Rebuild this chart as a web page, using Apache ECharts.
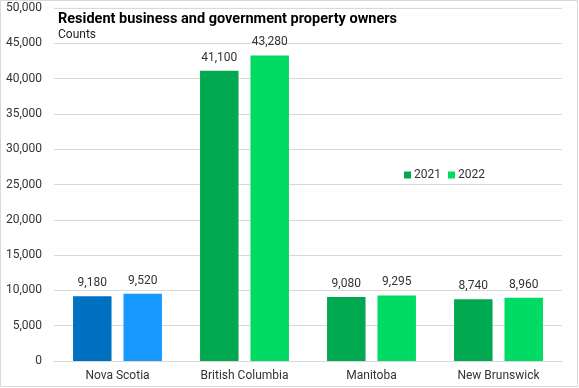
<!DOCTYPE html>
<html><head><meta charset="utf-8">
<script src="https://cdn.jsdelivr.net/npm/echarts@6/dist/echarts.min.js"></script>
<style>html,body{margin:0;padding:0;background:#fff}#c{width:579px;height:388px}</style>
</head><body><div id="c"></div>
<script>
const categories = ['Nova Scotia', 'British Columbia', 'Manitoba', 'New Brunswick'];
const values2021 = [9180, 41100, 9080, 8740];
const values2022 = [9520, 43280, 9295, 8960];
const seriesNames = ['2021', '2022'];
const titleText = 'Resident business and government property owners';
const subtitleText = 'Counts';

const green2021 = '#00A84F', green2022 = '#00DB64';
const blue2021 = '#0070C0', blue2022 = '#1899FF';
const fontFam = 'Roboto, "Noto Sans", sans-serif';

function mk(vals, base, first) {
  return vals.map((v, i) => i === 0 ? { value: v, itemStyle: { color: first } } : v);
}
const chart = echarts.init(document.getElementById('c'));
chart.setOption({
  backgroundColor: '#fff',
  animation: false,
  textStyle: { fontFamily: fontFam },
  graphic: [{ type: 'rect', shape: { x: 0.5, y: 0.5, width: 577, height: 386 }, style: { fill: 'none', stroke: '#d9d9d9', lineWidth: 1 } }],
  title: {
    text: titleText, subtext: subtitleText, left: 53, top: 7,
    textStyle: { fontSize: 14.5, fontWeight: 'bold', color: '#000', fontFamily: fontFam },
    subtextStyle: { fontSize: 12, color: '#222', fontFamily: fontFam },
    itemGap: 2
  },
  legend: {
    left: 399, top: 164, itemWidth: 7, itemHeight: 7, itemGap: 7, icon: 'rect',
    textStyle: { fontSize: 12, color: '#333', padding: [0, 0, 0, -2] },
    data: seriesNames
  },
  grid: { left: 54, right: 17, top: 8, bottom: 27, containLabel: false },
  xAxis: {
    type: 'category', data: categories,
    axisLine: { show: true, lineStyle: { color: '#d9d9d9' } },
    axisTick: { show: false },
    axisLabel: { fontSize: 12, color: '#333', margin: 9 }
  },
  yAxis: {
    type: 'value', min: 0, max: 50000, interval: 5000,
    axisLine: { show: false }, axisTick: { show: false },
    splitLine: { lineStyle: { color: '#d9d9d9' } },
    axisLabel: { fontSize: 12, color: '#333', margin: 12, formatter: v => v.toLocaleString('en-US') }
  },
  series: [
    { name: seriesNames[0], type: 'bar', data: mk(values2021, green2021, blue2021), itemStyle: { color: green2021 },
      barGap: '31%', barCategoryGap: '30%',
      label: { show: true, position: 'top', distance: 7, fontSize: 12, color: '#333', formatter: p => p.value.toLocaleString('en-US') } },
    { name: seriesNames[1], type: 'bar', data: mk(values2022, green2022, blue2022), itemStyle: { color: green2022 },
      barGap: '31%', barCategoryGap: '30%',
      label: { show: true, position: 'top', distance: 7, fontSize: 12, color: '#333', formatter: p => p.value.toLocaleString('en-US') } }
  ]
});
</script></body></html>
